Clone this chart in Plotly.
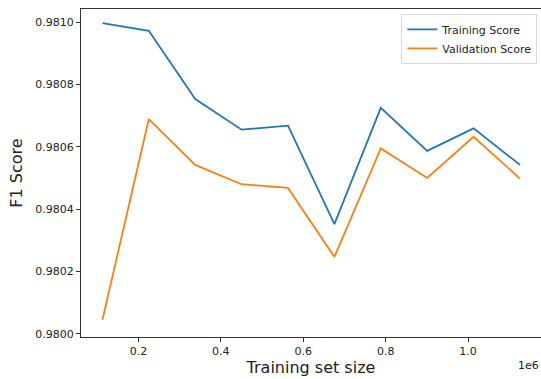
import plotly.graph_objects as go

train_sizes = [112600, 225200, 337800, 450400, 563000, 675600, 788200, 900800, 1013400, 1126000]
training_score = [0.980997, 0.980972, 0.980753, 0.980655, 0.980668, 0.980352, 0.980725, 0.980587, 0.980659, 0.980542]
validation_score = [0.980045, 0.980689, 0.980542, 0.980480, 0.980468, 0.980247, 0.980595, 0.980500, 0.980632, 0.980498]

x_tickvals = [200000, 400000, 600000, 800000, 1000000]
x_ticktext = ["0.2", "0.4", "0.6", "0.8", "1.0"]
y_tickvals = [0.9800, 0.9802, 0.9804, 0.9806, 0.9808, 0.9810]

fig = go.Figure()
fig.add_trace(go.Scatter(x=train_sizes, y=training_score, mode="lines", name="Training Score",
                         line=dict(color="#1f77b4", width=1.8)))
fig.add_trace(go.Scatter(x=train_sizes, y=validation_score, mode="lines", name="Validation Score",
                         line=dict(color="#ff7f0e", width=1.8)))

axis_common = dict(showline=True, linecolor="#333333", linewidth=1, mirror=True,
                   ticks="outside", ticklen=4, tickcolor="#333333", tickwidth=1,
                   showgrid=False, zeroline=False, tickfont=dict(size=11, color="#222222"))

fig.update_layout(
    width=541, height=379,
    margin=dict(l=81, r=0, t=9, b=42),
    paper_bgcolor="white", plot_bgcolor="white",
    font=dict(family="DejaVu Sans", color="#222222"),
    showlegend=True,
    legend=dict(x=0.992, y=0.985, xanchor="right", yanchor="top",
                bgcolor="rgba(255,255,255,0.8)", bordercolor="#d9d9d9", borderwidth=1,
                font=dict(size=11), itemwidth=30, tracegroupgap=0),
    xaxis=dict(range=[60600, 1177000], tickvals=x_tickvals, ticktext=x_ticktext,
               title=dict(text="Training set size", font=dict(size=16), standoff=4),
               **axis_common),
    yaxis=dict(range=[0.979990, 0.981042], tickvals=y_tickvals, tickformat=".4f",
               title=dict(text="F1 Score", font=dict(size=16), standoff=8),
               **axis_common),
)
fig.add_annotation(text="1e6", xref="paper", yref="paper", x=1.0, y=0, xanchor="right", yanchor="top",
                   yshift=-20, showarrow=False, font=dict(size=11, color="#222222"))

fig.write_html("out.html")
